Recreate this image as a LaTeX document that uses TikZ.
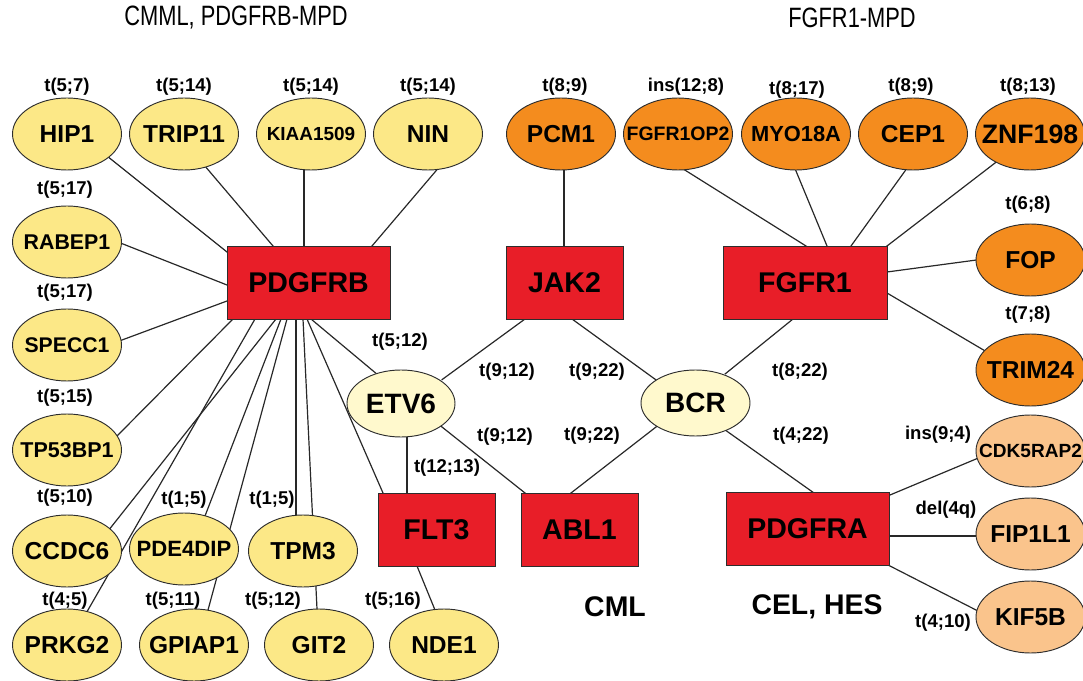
\documentclass[tikz,border=0pt]{standalone}
\usepackage{fontspec}
\setmainfont{Liberation Sans}
\usepackage{graphicx}
\usetikzlibrary{shapes.geometric}
\pgfdeclarelayer{bg}
\pgfsetlayers{bg,main}
\definecolor{gy}{RGB}{252,232,135}
\definecolor{gp}{RGB}{255,249,205}
\definecolor{go}{RGB}{244,140,30}
\definecolor{gl}{RGB}{250,196,140}
\definecolor{rd}{RGB}{232,30,40}
\definecolor{bd}{RGB}{45,45,45}
\definecolor{lk}{RGB}{40,40,40}
\newcommand\zw[1]{\makebox[0pt]{#1}}
\begin{document}
\begin{tikzpicture}[x=0.75pt,y=-0.75pt,
  gene/.style={ellipse, draw=bd, line width=0.7pt, inner sep=0pt,
    minimum width=81.75pt, minimum height=54pt,
    font=\bfseries\fontsize{18.4}{20}\selectfont},
  fs/.style={font=\bfseries\fontsize{#1}{#1}\selectfont},
  yel/.style={gene, fill=gy},
  org/.style={gene, fill=go},
  lor/.style={gene, fill=gl},
  pal/.style={gene, fill=gp, minimum width=81pt, minimum height=50.25pt,
    font=\bfseries\fontsize{21}{22}\selectfont},
  kin/.style={rectangle, draw=bd, line width=0.7pt, fill=rd, inner sep=0pt,
    minimum height=54.75pt, font=\bfseries\fontsize{21.4}{23}\selectfont},
  tl/.style={font=\bfseries\fontsize{13.9}{15}\selectfont, inner sep=0pt},
  link/.style={draw=lk, line width=0.9pt, shorten <=-5pt, shorten >=-5pt},
  dz/.style={font=\bfseries\fontsize{21.3}{23}\selectfont, inner sep=0pt},
  ttl/.style={font=\fontsize{21}{23}\selectfont, inner sep=0pt}
]
\useasboundingbox (0,0) rectangle (1083,681);

% titles
\node[ttl] (T1) at (236,18) {\scalebox{0.78}[1]{CMML, PDGFRB-MPD}};
\node[ttl] (T2) at (852,18) {\scalebox{0.78}[1]{FGFR1-MPD}};

% partner genes
\node[yel] (HIP1) at (67,134) {\zw{HIP1}};
\node[yel] (TRIP11) at (184,134) {\zw{TRIP11}};
\node[yel, fs=14.2] (KIAA) at (311,134) {\zw{KIAA1509}};
\node[yel] (NIN) at (428,134) {\zw{NIN}};
\node[org] (PCM1) at (561,134) {\zw{PCM1}};
\node[org, fs=14.6] (FOPII) at (678,134) {\zw{FGFR1OP2}};
\node[org, fs=16.4] (MYO) at (796,134) {\zw{MYO18A}};
\node[org] (CEP1) at (913,134) {\zw{CEP1}};
\node[org, fs=20] (ZNF) at (1030,134) {\zw{ZNF198}};
\node[yel, fs=16] (RAB) at (67,242) {\zw{RABEP1}};
\node[yel, fs=15.9] (SPE) at (67,345) {\zw{SPECC1}};
\node[yel, fs=16.1] (TP53) at (67,450) {\zw{TP53BP1}};
\node[yel] (CCDC6) at (67,551) {\zw{CCDC6}};
\node[yel] (PRKG2) at (67,645) {\zw{PRKG2}};
\node[yel, fs=16.6] (PDE) at (184,549) {\zw{PDE4DIP}};
\node[yel] (TPM3) at (303,551) {\zw{TPM3}};
\node[yel] (GPI) at (194,645) {\zw{GPIAP1}};
\node[yel] (GIT2) at (319,645) {\zw{GIT2}};
\node[yel] (NDE1) at (444,645) {\zw{NDE1}};
\node[pal] (ETV6) at (401,403.5) {\zw{ETV6}};
\node[pal, minimum width=81.75pt, minimum height=49.5pt] (BCR) at (695.5,403) {\zw{BCR}};
\node[org] (FOP) at (1030.5,260) {\zw{FOP}};
\node[org] (TRIM) at (1030.5,370) {\zw{TRIM24}};
\node[lor, fs=14.3] (CDK) at (1030.5,451) {\zw{CDK5RAP2}};
\node[lor] (FIP) at (1030.5,534) {\zw{FIP1L1}};
\node[lor] (KIF) at (1030.5,617) {\zw{KIF5B}};

% kinases
\node[kin, minimum width=122.25pt] (PDGFRB) at (308.5,282.5) {PDGFRB};
\node[kin, minimum width=87.75pt] (JAK2) at (564.5,282.5) {JAK2};
\node[kin, minimum width=123pt] (FGFR1) at (805,282.5) {FGFR1};
\node[kin, minimum width=87.75pt] (FLT3) at (436.5,529.5) {FLT3};
\node[kin, minimum width=87.75pt] (ABL1) at (579.5,530) {ABL1};
\node[kin, minimum width=122.25pt] (PDGFRA) at (807.5,529) {PDGFRA};

% translocation labels
\node[tl] (l1) at (67,87) {t(5;7)};
\node[tl] (l2) at (184,87) {t(5;14)};
\node[tl] (l3) at (311,87) {t(5;14)};
\node[tl] (l4) at (428,87) {t(5;14)};
\node[tl] (l5) at (565,87) {t(8;9)};
\node[tl] (l6) at (686,87) {ins(12;8)};
\node[tl] (l7) at (797,90) {t(8;17)};
\node[tl] (l8) at (911,87) {t(8;9)};
\node[tl] (l9) at (1028,87) {t(8;13)};
\node[tl] (l10) at (65,190) {t(5;17)};
\node[tl] (l11) at (65,293) {t(5;17)};
\node[tl] (l12) at (65,398) {t(5;15)};
\node[tl] (l13) at (65,498) {t(5;10)};
\node[tl] (l14) at (184,500) {t(1;5)};
\node[tl] (l15) at (272,500) {t(1;5)};
\node[tl] (l16) at (65,601) {t(4;5)};
\node[tl] (l17) at (173,601) {t(5;11)};
\node[tl] (l18) at (273,601) {t(5;12)};
\node[tl] (l19) at (393,601) {t(5;16)};
\node[tl] (l20) at (1028,205) {t(6;8)};
\node[tl] (l21) at (1028,315) {t(7;8)};
\node[tl] (l22) at (400,342) {t(5;12)};
\node[tl] (l23) at (507,372) {t(9;12)};
\node[tl] (l24) at (597,372) {t(9;22)};
\node[tl] (l25) at (800,372) {t(8;22)};
\node[tl] (l26) at (505,437) {t(9;12)};
\node[tl] (l27) at (592,436) {t(9;22)};
\node[tl] (l28) at (801,436) {t(4;22)};
\node[tl] (l29) at (447,468) {t(12;13)};
\node[tl] (l30) at (938,435) {ins(9;4)};
\node[tl] (l31) at (946,510) {del(4q)};
\node[tl] (l32) at (943,623) {t(4;10)};

% disease labels
\node[dz] (CML) at (615,607) {CML};
\node[dz] (CEL) at (817,607) {CEL, HES};

% connectors
\begin{pgfonlayer}{bg}
\path[link] ([shift={(45,26)}]HIP1.center) -- ([shift={(-81.5,-30.5)}]PDGFRB.center);
\path[link] ([shift={(26,38)}]TRIP11.center) -- ([shift={(-35.5,-36.5)}]PDGFRB.center);
\path[link] ([shift={(-7,36)}]KIAA.center) -- ([shift={(-4.5,-36.5)}]PDGFRB.center);
\path[link] ([shift={(7,38)}]NIN.center) -- ([shift={(63.5,-36.5)}]PDGFRB.center);
\path[link] ([shift={(56,2)}]RAB.center) -- ([shift={(-81.5,2.5)}]PDGFRB.center);
\path[link] ([shift={(55,-5)}]SPE.center) -- ([shift={(-81.5,18.5)}]PDGFRB.center);
\path[link] ([shift={(51,-15)}]TP53.center) -- ([shift={(-75.5,36.5)}]PDGFRB.center);
\path[link] ([shift={(21,-35)}]PRKG2.center) -- ([shift={(-53.5,36.5)}]PDGFRB.center);
\path[link] ([shift={(45,-25)}]CCDC6.center) -- ([shift={(-32.5,36.5)}]PDGFRB.center);
\path[link] ([shift={(21,-33)}]PDE.center) -- ([shift={(-27.5,36.5)}]PDGFRB.center);
\path[link] ([shift={(14,-35)}]GPI.center) -- ([shift={(-21.5,36.5)}]PDGFRB.center);
\path[link] ([shift={(-7,-35)}]TPM3.center) -- ([shift={(-12.5,36.5)}]PDGFRB.center);
\path[link] ([shift={(-2,-36)}]GIT2.center) -- ([shift={(-5.5,36.5)}]PDGFRB.center);
\path[link] ([shift={(-53.5,-36.5)}]FLT3.center) -- ([shift={(-1.5,36.5)}]PDGFRB.center);
\path[link] ([shift={(-29,-33.5)}]ETV6.center) -- ([shift={(2.5,36.5)}]PDGFRB.center);

\path[link] ([shift={(3,36)}]PCM1.center) -- ([shift={(-0.5,-36.5)}]JAK2.center);
\path[link] ([shift={(46,-27.5)}]ETV6.center) -- ([shift={(-39.5,36.5)}]JAK2.center);
\path[link] ([shift={(-43.5,-26)}]BCR.center) -- ([shift={(7.5,36.5)}]JAK2.center);

\path[link] ([shift={(10,38)}]FOPII.center) -- ([shift={(1,-36.5)}]FGFR1.center);
\path[link] ([shift={(0,37)}]MYO.center) -- ([shift={(22,-36.5)}]FGFR1.center);
\path[link] ([shift={(-8,37)}]CEP1.center) -- ([shift={(46,-36.5)}]FGFR1.center);
\path[link] ([shift={(-35,29)}]ZNF.center) -- ([shift={(82,-36.5)}]FGFR1.center);
\path[link] ([shift={(-54,0)}]FOP.center) -- ([shift={(82,-10.5)}]FGFR1.center);
\path[link] ([shift={(-47,-20)}]TRIM.center) -- ([shift={(82,10.5)}]FGFR1.center);
\path[link] ([shift={(34.5,-33)}]BCR.center) -- ([shift={(-12,36.5)}]FGFR1.center);

\path[link] ([shift={(6,33.5)}]ETV6.center) -- ([shift={(-29.5,-36.5)}]FLT3.center);
\path[link] ([shift={(41,23.5)}]ETV6.center) -- ([shift={(-54.5,-37)}]ABL1.center);
\path[link] ([shift={(-39.5,24)}]BCR.center) -- ([shift={(-8.5,-37)}]ABL1.center);
\path[link] ([shift={(32.5,29)}]BCR.center) -- ([shift={(6.5,-36)}]PDGFRA.center);
\path[link] ([shift={(-19.5,36.5)}]FLT3.center) -- ([shift={(-9,-35)}]NDE1.center);
\path[link] ([shift={(82.5,-34)}]PDGFRA.center) -- ([shift={(-54.5,8)}]CDK.center);
\path[link] ([shift={(81.5,7)}]PDGFRA.center) -- ([shift={(-54.5,2)}]FIP.center);
\path[link] ([shift={(82.5,37)}]PDGFRA.center) -- ([shift={(-54.5,-7)}]KIF.center);
\end{pgfonlayer}
\end{tikzpicture}
\end{document}
